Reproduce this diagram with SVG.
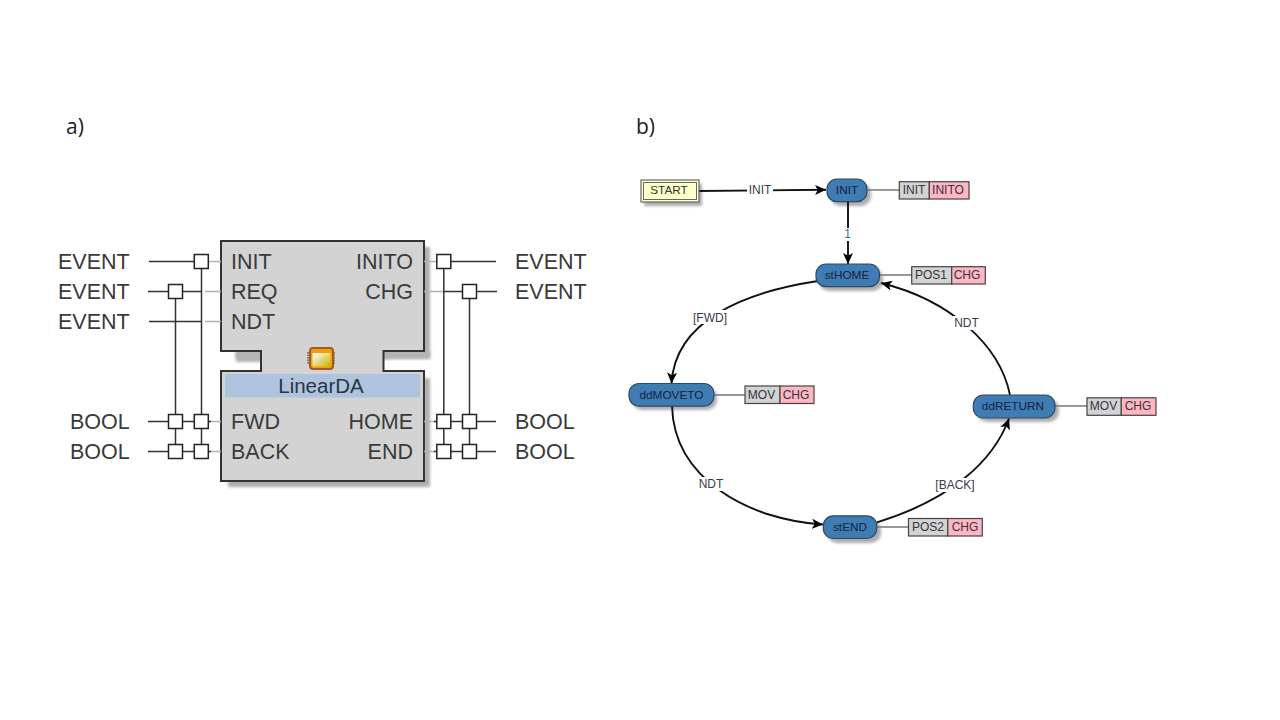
<svg xmlns="http://www.w3.org/2000/svg" width="1280" height="720" viewBox="0 0 1280 720">
<defs>
<marker id="ah" markerUnits="userSpaceOnUse" markerWidth="13" markerHeight="11" refX="11" refY="5.500" orient="auto"><path d="M0,0.500 L11,5.500 L0,10.500 L2.800,5.500 Z" fill="#000"/></marker>
<linearGradient id="chip" x1="0" y1="0" x2="1" y2="1"><stop offset="0" stop-color="#fff"/><stop offset="1" stop-color="#c8b400"/></linearGradient>
<filter id="soft" x="-20%" y="-20%" width="140%" height="140%"><feGaussianBlur stdDeviation="1.500"/></filter>
</defs>
<style>
text{font-family:"Liberation Sans",Arial,sans-serif;fill:#2b2b2b}
.cap{font-family:"Open Sans","Liberation Sans",sans-serif;font-size:21px;fill:#222}
.big{font-size:21.500px;fill:#3a3a3a}
.e{text-anchor:end}
.w{stroke:#333;stroke-width:1.500;fill:none}
.g{stroke:#b0b0b0;stroke-width:1.300;fill:none}
.b{fill:#fff;stroke:#222;stroke-width:1.500}
.edge{stroke:#111;stroke-width:1.900;fill:none}
.st{fill:#3f7cb4;stroke:#2c4a66;stroke-width:1.200}
.shadow{fill:#999;opacity:.8;filter:url(#soft)}
.t{font-size:11.800px;text-anchor:middle;fill:#152238}
.p{font-size:12px;text-anchor:middle;fill:#333344}
.lab{font-size:12px;text-anchor:middle;fill:#3a3a4a}
.pa{fill:#d3d3d3;stroke:#444;stroke-width:1.200}
.pk{fill:#ffb6c1;stroke:#444;stroke-width:1.200}
.ln{stroke:#777;stroke-width:1.300}
</style>
<text class="cap" x="66" y="134">a)</text>
<text class="cap" x="636" y="134">b)</text>

<g id="fb-body">
<path class="shadow" d="M235,247 H430 V358 H390 V359 H383 V359 H261 V359 H236 Z"/>
<rect x="236" y="351" width="25" height="11" fill="#b4b4b4" filter="url(#soft)"/>
<rect x="384" y="351" width="46" height="8" fill="#b4b4b4" filter="url(#soft)"/>
<path class="shadow" d="M424,378 H430 V487 H228 V478 H424 Z"/>
<path d="M221,241 H424 V351 H383.500 V371 H424 V481 H221 V371 H261 V351 H221 Z" fill="#d3d3d3" stroke="#333" stroke-width="2"/>
<rect x="225" y="374" width="195" height="23.500" fill="#aec4de"/>
<text x="321" y="393" font-size="20.500" text-anchor="middle" style="fill:#2a3442">LinearDA</text>
<path d="M308,352 V364 M334,352 V364" stroke="#777" stroke-width="2" stroke-dasharray="1.500 1"/>
<rect x="310" y="348" width="23" height="21" rx="3" fill="#f4a000" stroke="#a5582a" stroke-width="2"/>
<rect x="312.500" y="353" width="18" height="13.500" fill="url(#chip)"/>
</g>
<g id="fb-inputs">
<text class="big" x="231" y="269">INIT</text>
<text class="big" x="231" y="299">REQ</text>
<text class="big" x="231" y="329">NDT</text>
<text class="big" x="231" y="429">FWD</text>
<text class="big" x="231" y="459">BACK</text>
</g>
<g id="fb-outputs">
<text class="big e" x="413" y="269">INITO</text>
<text class="big e" x="413" y="299">CHG</text>
<text class="big e" x="413" y="429">HOME</text>
<text class="big e" x="413" y="459">END</text>
</g>
<g id="types-left">
<text class="big" x="58" y="269">EVENT</text>
<text class="big" x="58" y="299">EVENT</text>
<text class="big" x="58" y="329">EVENT</text>
<text class="big" x="70" y="429">BOOL</text>
<text class="big" x="70" y="459">BOOL</text>
</g>
<g id="types-right">
<text class="big" x="515" y="269">EVENT</text>
<text class="big" x="515" y="299">EVENT</text>
<text class="big" x="515" y="429">BOOL</text>
<text class="big" x="515" y="459">BOOL</text>
</g>
<g id="fb-wires">
<path class="g" d="M205,261.500 H221 M205,291.500 H221 M205,321.500 H221 M205,421.500 H221 M205,451.500 H221"/>
<path class="w" d="M149,261.500 H209 M148,291.500 H202 M149,321.500 H202 M148,421.500 H211 M148,451.500 H211"/>
<path class="w" d="M175.500,291.500 V451.500 M201.500,261.500 V451.500"/>
<path class="g" d="M424,261.500 H440 M424,291.500 H444 M424,421.500 H440 M424,451.500 H440"/>
<path class="w" d="M436,261.500 H496 M444,291.500 H497 M434,421.500 H496 M434,451.500 H496"/>
<path class="w" d="M443.800,261.500 V451.500 M469.500,291.500 V451.500"/>
<rect class="b" x="194.300" y="254.500" width="14" height="14"/>
<rect class="b" x="168.500" y="284.500" width="14" height="14"/>
<rect class="b" x="168.500" y="414.500" width="14" height="14"/>
<rect class="b" x="194.300" y="414.500" width="14" height="14"/>
<rect class="b" x="168.500" y="444.500" width="14" height="14"/>
<rect class="b" x="194.300" y="444.500" width="14" height="14"/>
<rect class="b" x="436.800" y="254.500" width="14" height="14"/>
<rect class="b" x="462.500" y="284.500" width="14" height="14"/>
<rect class="b" x="436.800" y="414.500" width="14" height="14"/>
<rect class="b" x="462.500" y="414.500" width="14" height="14"/>
<rect class="b" x="436.800" y="444.500" width="14" height="14"/>
<rect class="b" x="462.500" y="444.500" width="14" height="14"/>
</g>

<g id="shadows">
<rect class="shadow" x="644" y="184" width="58" height="22"/>
<rect class="shadow" x="830" y="183" width="41" height="23" rx="10"/>
<rect class="shadow" x="819" y="268" width="64" height="23" rx="10"/>
<rect class="shadow" x="632" y="387" width="85" height="23" rx="10"/>
<rect class="shadow" x="977" y="399" width="82" height="23" rx="10"/>
<rect class="shadow" x="827" y="520" width="54" height="23" rx="10"/>
</g>

<g id="connectors">
<path class="edge" marker-end="url(#ah)" d="M699,191 L826,189.800"/>
<path class="edge" marker-end="url(#ah)" d="M848,202 L848,264"/>
<path class="edge" marker-end="url(#ah)" d="M818,281 C745,292 675,320 671.500,383.500"/>
<path class="edge" marker-end="url(#ah)" d="M672,406 C674,480 750,520 823,524.500"/>
<path class="edge" marker-end="url(#ah)" d="M877,522.300 C950,500 993,462 1009,418.500"/>
<path class="edge" marker-end="url(#ah)" d="M1010,395 C1000,345 950,300 881,283"/>
<path class="ln" d="M868,190 H899 M880,275 H912 M714,395 H745 M1055,406 H1087 M877,527 H909"/>
<g>
<rect x="747" y="183" width="26" height="14" fill="#fff"/>
<text class="lab" x="760" y="194">INIT</text>
<rect x="843" y="228" width="10" height="13" fill="#fff"/>
<text class="lab" x="847.500" y="238" style="fill:#1f6f9a">1</text>
<rect x="693" y="310" width="34" height="14" fill="#fff"/>
<text class="lab" x="710" y="322">[FWD]</text>
<rect x="699" y="477" width="26" height="14" fill="#fff"/>
<text class="lab" x="711" y="488">NDT</text>
<rect x="935" y="478" width="41" height="14" fill="#fff"/>
<text class="lab" x="955" y="489">[BACK]</text>
<rect x="953" y="316" width="27" height="14" fill="#fff"/>
<text class="lab" x="966.500" y="327">NDT</text>
</g>
</g>

<g id="START">
<rect x="641" y="180" width="58" height="22" fill="#ffffd0" stroke="#666" stroke-width="1.200"/>
<rect x="643.500" y="182.500" width="53" height="17" fill="#ffffcc" stroke="#666" stroke-width="1"/>
<text class="t" x="669" y="194" style="fill:#333">START</text>
</g>
<g id="INIT">
<rect class="st" x="827" y="179" width="40" height="22.700" rx="10"/>
<text class="t" x="847" y="194">INIT</text>
<rect class="pa" x="899.300" y="181.700" width="30" height="17.300"/><rect class="pk" x="929.300" y="181.700" width="39.700" height="17.300"/>
<text class="p" x="914" y="194">INIT</text><text class="p" x="948" y="194">INITO</text>
</g>
<g id="stHOME">
<rect class="st" x="816" y="264" width="63.500" height="22.700" rx="10"/>
<text class="t" x="847" y="279">stHOME</text>
<rect class="pa" x="911.700" y="266.700" width="40" height="17.300"/><rect class="pk" x="951.700" y="266.700" width="33.600" height="17.300"/>
<text class="p" x="931" y="279">POS1</text><text class="p" x="967" y="279">CHG</text>
</g>
<g id="ddMOVETO">
<rect class="st" x="629" y="383.500" width="85" height="22.700" rx="10"/>
<text class="t" x="671.500" y="398.500">ddMOVETO</text>
<rect class="pa" x="745" y="386" width="35" height="17.500"/><rect class="pk" x="780" y="386" width="34" height="17.500"/>
<text class="p" x="761.500" y="399">MOV</text><text class="p" x="796" y="399">CHG</text>
</g>
<g id="ddRETURN">
<rect class="st" x="973.300" y="395" width="81.700" height="23" rx="10"/>
<text class="t" x="1013" y="410">ddRETURN</text>
<rect class="pa" x="1087" y="397.800" width="34.300" height="17.500"/><rect class="pk" x="1121.300" y="397.800" width="34.700" height="17.500"/>
<text class="p" x="1103.500" y="410">MOV</text><text class="p" x="1138" y="410">CHG</text>
</g>
<g id="stEND">
<rect class="st" x="823.300" y="515.800" width="53.500" height="22.700" rx="10"/>
<text class="t" x="850" y="531">stEND</text>
<rect class="pa" x="908.500" y="518.500" width="39.300" height="17.500"/><rect class="pk" x="947.800" y="518.500" width="34.500" height="17.500"/>
<text class="p" x="928" y="531">POS2</text><text class="p" x="965" y="531">CHG</text>
</g>
</svg>
